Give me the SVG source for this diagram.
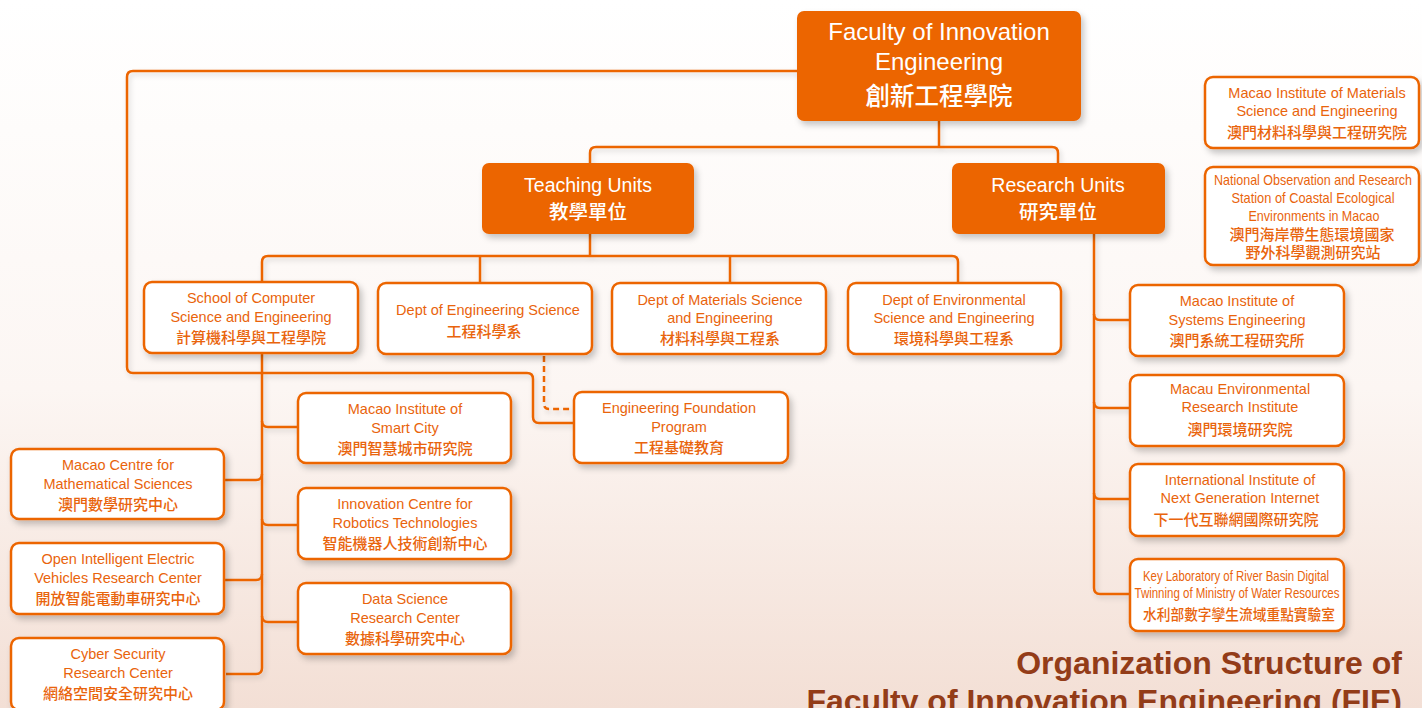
<svg xmlns="http://www.w3.org/2000/svg" width="1422" height="708" viewBox="0 0 1422 708">
<defs>
<linearGradient id="bg" x1="0" y1="0" x2="0" y2="1">
<stop offset="0" stop-color="#ffffff"/>
<stop offset="0.55" stop-color="#fcf6f3"/>
<stop offset="1" stop-color="#f3dfd5"/>
</linearGradient>
<filter id="sh" x="-10%" y="-10%" width="125%" height="135%">
<feDropShadow dx="3" dy="4" stdDeviation="3" flood-color="#000" flood-opacity="0.22"/>
</filter>
<filter id="lsh" x="-5%" y="-5%" width="110%" height="110%">
<feDropShadow dx="2" dy="3" stdDeviation="2.5" flood-color="#000" flood-opacity="0.15"/>
</filter>
</defs>
<style>
.box{fill:#ffffff;stroke:#ec6500;stroke-width:2.5}
.fbox{fill:#ec6500}
.ln{fill:none;stroke:#ec6500;stroke-width:2.5}
.dash{fill:none;stroke:#ec6500;stroke-width:2.5;stroke-dasharray:6 4}
.t{font-family:"Liberation Sans","Noto Sans CJK TC",sans-serif;font-size:14.5px;fill:#e9640c;text-anchor:middle}
.c{font-family:"Noto Sans CJK TC","Liberation Sans",sans-serif;font-size:15px;font-weight:500;fill:#e9640c;text-anchor:middle}
.wt{font-family:"Liberation Sans","Noto Sans CJK TC",sans-serif;fill:#ffffff;text-anchor:middle}
.wc{font-family:"Noto Sans CJK TC","Liberation Sans",sans-serif;font-weight:500;fill:#ffffff;text-anchor:middle}
.title{font-family:"Liberation Sans",Arial,sans-serif;font-weight:bold;font-size:32px;fill:#933c18;text-anchor:end}
</style>
<rect x="0" y="0" width="1422" height="708" fill="url(#bg)"/>

<g id="connectors" filter="url(#lsh)">
<path class="ln" d="M939,121 V147"/>
<path class="ln" d="M590,163 V153 Q590,147 596,147 H1052 Q1058,147 1058,153 V163"/>
<path class="ln" d="M590,234 V256"/>
<path class="ln" d="M262,282 V262 Q262,256 268,256 H952 Q958,256 958,262 V283"/>
<path class="ln" d="M480,256 V283"/>
<path class="ln" d="M730,256 V283"/>
<path class="ln" d="M797,71 H133 Q127,71 127,77 V367 Q127,373 133,373 H527 Q533,373 533,379 V417 Q533,423 539,423 H574"/>
<path class="dash" d="M544,356 V404 Q544,409 549,409 H574"/>
<path class="ln" d="M262,353 V668 Q262,674 256,674 H226"/>
<path class="ln" d="M262,421 Q262,427 268,427 H298"/>
<path class="ln" d="M262,519 Q262,525 268,525 H298"/>
<path class="ln" d="M262,616 Q262,622 268,622 H298"/>
<path class="ln" d="M262,474 Q262,480 256,480 H224"/>
<path class="ln" d="M262,574 Q262,580 256,580 H224"/>
<path class="ln" d="M1094,234 V588 Q1094,594 1100,594 H1130"/>
<path class="ln" d="M1094,314 Q1094,320 1100,320 H1130"/>
<path class="ln" d="M1094,402 Q1094,408 1100,408 H1130"/>
<path class="ln" d="M1094,493 Q1094,499 1100,499 H1130"/>
</g>

<g id="fie">
<rect class="fbox" x="797" y="11" width="284" height="110" rx="7" filter="url(#sh)"/>
<text class="wt" x="939" y="40" font-size="24">Faculty of Innovation</text>
<text class="wt" x="939" y="70" font-size="24">Engineering</text>
<text class="wc" x="939" y="105" font-size="24.5">創新工程學院</text>
</g>

<g id="teaching">
<rect class="fbox" x="482" y="163" width="212" height="71" rx="7" filter="url(#sh)"/>
<text class="wt" x="588" y="192" font-size="19.5">Teaching Units</text>
<text class="wc" x="588" y="219" font-size="19.5">教學單位</text>
</g>

<g id="research">
<rect class="fbox" x="952" y="163" width="213" height="71" rx="7" filter="url(#sh)"/>
<text class="wt" x="1058" y="192" font-size="19.5">Research Units</text>
<text class="wc" x="1058" y="219" font-size="19.5">研究單位</text>
</g>

<g id="scse">
<rect class="box" x="144" y="282" width="214" height="71" rx="8" filter="url(#sh)"/>
<text class="t" x="251" y="303">School of Computer</text>
<text class="t" x="251" y="322">Science and Engineering</text>
<text class="c" x="251" y="343">計算機科學與工程學院</text>
</g>

<g id="des">
<rect class="box" x="378" y="283" width="214" height="71" rx="8" filter="url(#sh)"/>
<text class="t" x="488" y="315">Dept of Engineering Science</text>
<text class="c" x="484" y="337">工程科學系</text>
</g>

<g id="dmse">
<rect class="box" x="612" y="283" width="214" height="71" rx="8" filter="url(#sh)"/>
<text class="t" x="720" y="305">Dept of Materials Science</text>
<text class="t" x="720" y="323">and Engineering</text>
<text class="c" x="720" y="344">材料科學與工程系</text>
</g>

<g id="dese">
<rect class="box" x="848" y="283" width="213" height="71" rx="8" filter="url(#sh)"/>
<text class="t" x="954" y="305">Dept of Environmental</text>
<text class="t" x="954" y="323">Science and Engineering</text>
<text class="c" x="954" y="344">環境科學與工程系</text>
</g>

<g id="efp">
<rect class="box" x="574" y="392" width="214" height="71" rx="8" filter="url(#sh)"/>
<text class="t" x="679" y="413">Engineering Foundation</text>
<text class="t" x="679" y="432">Program</text>
<text class="c" x="679" y="453">工程基礎教育</text>
</g>

<g id="smartcity">
<rect class="box" x="298" y="393" width="213" height="70" rx="8" filter="url(#sh)"/>
<text class="t" x="405" y="414">Macao Institute of</text>
<text class="t" x="405" y="433">Smart City</text>
<text class="c" x="405" y="454">澳門智慧城市研究院</text>
</g>

<g id="robotics">
<rect class="box" x="298" y="488" width="213" height="71" rx="8" filter="url(#sh)"/>
<text class="t" x="405" y="509">Innovation Centre for</text>
<text class="t" x="405" y="528">Robotics Technologies</text>
<text class="c" x="405" y="549">智能機器人技術創新中心</text>
</g>

<g id="datasci">
<rect class="box" x="298" y="583" width="213" height="71" rx="8" filter="url(#sh)"/>
<text class="t" x="405" y="604">Data Science</text>
<text class="t" x="405" y="623">Research Center</text>
<text class="c" x="405" y="644">數據科學研究中心</text>
</g>

<g id="math">
<rect class="box" x="11" y="449" width="213" height="70" rx="8" filter="url(#sh)"/>
<text class="t" x="118" y="470">Macao Centre for</text>
<text class="t" x="118" y="489">Mathematical Sciences</text>
<text class="c" x="118" y="510">澳門數學研究中心</text>
</g>

<g id="ev">
<rect class="box" x="11" y="543" width="213" height="71" rx="8" filter="url(#sh)"/>
<text class="t" x="118" y="564">Open Intelligent Electric</text>
<text class="t" x="118" y="583">Vehicles Research Center</text>
<text class="c" x="118" y="604">開放智能電動車研究中心</text>
</g>

<g id="cyber">
<rect class="box" x="11" y="638" width="213" height="72" rx="8" filter="url(#sh)"/>
<text class="t" x="118" y="659">Cyber Security</text>
<text class="t" x="118" y="678">Research Center</text>
<text class="c" x="118" y="699">網絡空間安全研究中心</text>
</g>

<g id="mise">
<rect class="box" x="1130" y="285" width="214" height="71" rx="8" filter="url(#sh)"/>
<text class="t" x="1237" y="306">Macao Institute of</text>
<text class="t" x="1237" y="325">Systems Engineering</text>
<text class="c" x="1237" y="346">澳門系統工程研究所</text>
</g>

<g id="meri">
<rect class="box" x="1130" y="375" width="214" height="71" rx="8" filter="url(#sh)"/>
<text class="t" x="1240" y="394">Macau Environmental</text>
<text class="t" x="1240" y="412">Research Institute</text>
<text class="c" x="1240" y="435">澳門環境研究院</text>
</g>

<g id="iing">
<rect class="box" x="1130" y="464" width="214" height="72" rx="8" filter="url(#sh)"/>
<text class="t" x="1240" y="485">International Institute of</text>
<text class="t" x="1240" y="503">Next Generation Internet</text>
<text class="c" x="1236" y="525">下一代互聯網國際研究院</text>
</g>

<g id="keylab">
<rect class="box" x="1130" y="559" width="214" height="72" rx="8" filter="url(#sh)"/>
<text class="t" x="1236" y="581" font-size="14" textLength="186" lengthAdjust="spacingAndGlyphs">Key Laboratory of River Basin Digital</text>
<text class="t" x="1237" y="598" font-size="14" textLength="205" lengthAdjust="spacingAndGlyphs">Twinning of Ministry of Water Resources</text>
<text class="c" x="1239" y="620" font-size="14" textLength="192" lengthAdjust="spacingAndGlyphs">水利部數字孿生流域重點實驗室</text>
</g>

<g id="mimse">
<rect class="box" x="1205" y="77" width="214" height="71" rx="8" filter="url(#sh)"/>
<text class="t" x="1317" y="98">Macao Institute of Materials</text>
<text class="t" x="1317" y="116">Science and Engineering</text>
<text class="c" x="1317" y="138">澳門材料科學與工程研究院</text>
</g>

<g id="nors">
<rect class="box" x="1205" y="167" width="214" height="98" rx="8" filter="url(#sh)"/>
<text class="t" x="1313" y="185" font-size="13.5" textLength="198" lengthAdjust="spacingAndGlyphs">National Observation and Research</text>
<text class="t" x="1313" y="203" font-size="13.5" textLength="163" lengthAdjust="spacingAndGlyphs">Station of Coastal Ecological</text>
<text class="t" x="1314" y="221" font-size="13.5" textLength="131" lengthAdjust="spacingAndGlyphs">Environments in Macao</text>
<text class="c" x="1312" y="240" font-size="14.8">澳門海岸帶生態環境國家</text>
<text class="c" x="1313" y="258" font-size="14.8">野外科學觀測研究站</text>
</g>

<g id="title">
<text class="title" x="1402" y="674">Organization Structure of</text>
<text class="title" x="1402" y="712">Faculty of Innovation Engineering (FIE)</text>
</g>
</svg>
